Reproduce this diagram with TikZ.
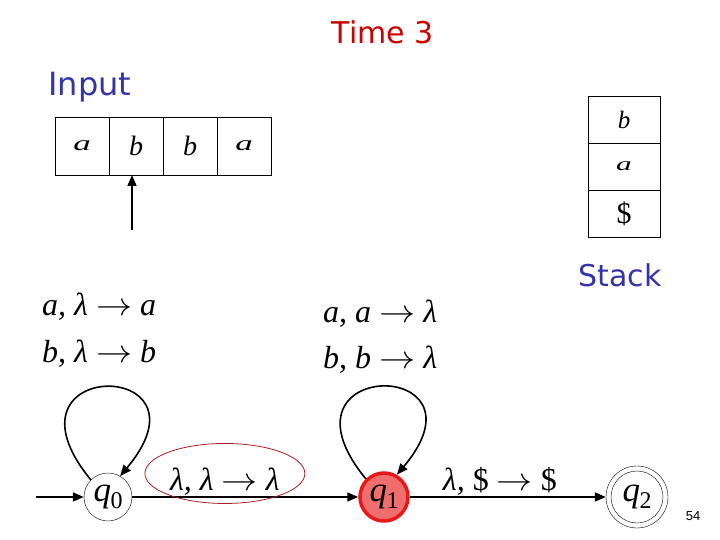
\documentclass[tikz,border=0pt]{standalone}
\usepackage{fontspec,graphicx}
\setmainfont{Liberation Serif}
\newfontfamily\comicfont{DejaVu Sans}
\newfontfamily\pagefont{Liberation Sans}
\usetikzlibrary{arrows.meta}
\definecolor{timered}{RGB}{204,0,0}
\definecolor{inblue}{RGB}{51,51,170}
\definecolor{curfill}{RGB}{240,110,110}
\definecolor{curdraw}{RGB}{230,25,25}
\definecolor{ovalred}{RGB}{170,30,30}
\newcommand{\qsub}[1]{\textit{q}\kern-.5pt\raisebox{-7pt}{\fontsize{24}{24}\selectfont #1}}
\newcommand{\flata}{\scalebox{1.25}[.75]{\textit{a}}}
\newcommand{\arr}{\scalebox{1.45}[1.3]{$\rightarrow$}}

\begin{document}
\begin{tikzpicture}[x=1pt,y=-1pt,
  cell/.style={draw,minimum width=54,minimum height=58,inner sep=0,outer sep=0,font=\fontsize{28}{28}\selectfont\itshape},
  state/.style={circle,draw,minimum size=48,inner sep=0,font=\fontsize{35}{35}\selectfont},
  rule/.style={anchor=base west,inner sep=0,font=\fontsize{32}{38}\selectfont\itshape},
  lab/.style={inner sep=1,font=\fontsize{32}{38}\selectfont\itshape},
  title/.style={font=\comicfont\fontsize{30}{30}\selectfont},
  edge/.style={line width=1.6,-{Triangle[length=11,width=9]}}]
\useasboundingbox (0,0) rectangle (720,540);
% heading, tape and stack
\node[title,text=timered] (time) at (383,32){Time 3};
\node[title,text=inblue,anchor=west,font=\comicfont\fontsize{32}{32}\selectfont] (input) at (45,87){Input};
\foreach \i/\lab in {1/\flata,2/b,3/b,4/\flata}{\node[cell] (t\i) at ({28+54*\i},146){\lab};}
\coordinate (head) at (132,230);\draw[edge] (head)--(head|-t2.south);
\foreach \i/\lab in {1/b,2/\flata,3/\upshape\fontsize{30}{30}\selectfont\$}{\node[cell,minimum width=72,minimum height=47,font=\fontsize{25}{25}\selectfont\itshape] (s\i) at (624,{72.5+47*\i}){\lab};}
\node[title,text=inblue] (stack) at (620,275){Stack};
% states
\node[state] (q0) at (108,497){\qsub0};
\node[state,fill=curfill,draw=curdraw,line width=3.5] (q1) at (384,497){\qsub1};
\node[state,minimum size=62] (q2) at (637,497){\qsub2};\draw (q2.center) circle (26);
\coordinate (init) at (36,497);
\draw[edge] (init)--(q0);
\draw[edge] (q0)--node[lab,pos=.41,above] (l01){λ, λ \arr{} λ} (q1);
\draw[ovalred,line width=.8] ([yshift=8]l01.center) ellipse [x radius=80,y radius=30];
\draw[edge] (q1)--node[lab,pos=.46,above] (l12){λ, {\upshape\$} \arr{} {\upshape\$}} (q2);
% loops and their rules
\draw[edge] (q0.135) .. controls (-10,357) and (220,357) .. (q0.60);
\draw[edge] (q1.135) .. controls (266,357) and (496,357) .. (q1.60);
\node[rule] (r0a) at (42,315){a, λ \arr{} a};
\node[rule] (r0b) at (42,362){b, λ \arr{} b};
\node[rule] (r1a) at (323,322){a, a \arr{} λ};
\node[rule] (r1b) at (323,368){b, b \arr{} λ};
\node[font=\pagefont\fontsize{13}{13}\selectfont] (pg) at (693,516){54};
\end{tikzpicture}
\end{document}
